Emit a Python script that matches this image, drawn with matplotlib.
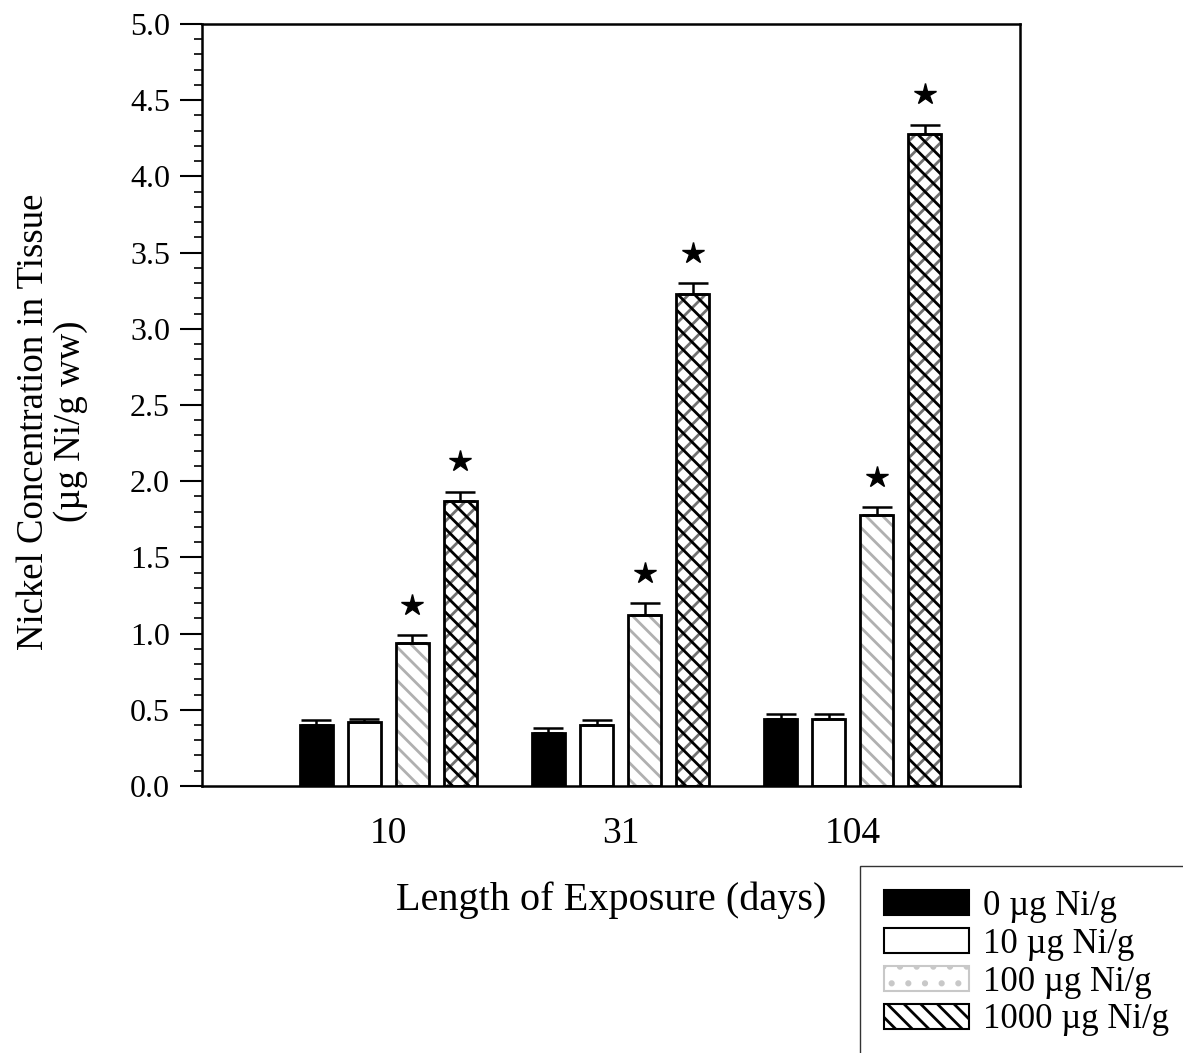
import numpy as np
import matplotlib.pyplot as plt
from matplotlib.patches import Patch

plt.rcParams['font.family'] = ['Liberation Serif', 'DejaVu Serif']
plt.rcParams['hatch.linewidth'] = 2.0

# data
days = ['10', '31', '104']
doses = ['0 µg Ni/g', '10 µg Ni/g', '100 µg Ni/g', '1000 µg Ni/g']
means = {
    '0 µg Ni/g': [0.40, 0.35, 0.44],
    '10 µg Ni/g': [0.42, 0.40, 0.44],
    '100 µg Ni/g': [0.94, 1.12, 1.78],
    '1000 µg Ni/g': [1.87, 3.23, 4.28],
}
errs = {
    '0 µg Ni/g': [0.03, 0.03, 0.03],
    '10 µg Ni/g': [0.02, 0.03, 0.03],
    '100 µg Ni/g': [0.05, 0.08, 0.05],
    '1000 µg Ni/g': [0.06, 0.07, 0.06],
}
signif = {
    '0 µg Ni/g': [False, False, False],
    '10 µg Ni/g': [False, False, False],
    '100 µg Ni/g': [True, True, True],
    '1000 µg Ni/g': [True, True, True],
}

faces = ['black', 'white', 'white', 'white']
# (hatch, hatch colour) layers drawn under the black outline
layers = [[], [], [('\\\\', '#b0b0b0')], [('//', '#707070'), ('\\\\', 'black')]]

fig = plt.figure(figsize=(11.83, 10.53), dpi=100)
ax = fig.add_axes([0.1708, 0.2536, 0.6915, 0.7236])

x = np.arange(1, len(days) + 1)
w = 0.142
step = 0.207
for i, d in enumerate(doses):
    xs = x + (i - 1.5) * step
    ax.bar(xs, means[d], width=w, color=faces[i], linewidth=0, zorder=2)
    for h, c in layers[i]:
        ax.bar(xs, means[d], width=w, fill=False, edgecolor=c, linewidth=0,
               hatch=h, zorder=2)
    ax.bar(xs, means[d], width=w, fill=False, edgecolor='black', linewidth=2, zorder=2)
    ax.errorbar(xs, means[d], yerr=[np.zeros(3), errs[d]], fmt='none',
                ecolor='black', elinewidth=1.8, capsize=11, capthick=1.8, zorder=3)
    for xi, m, e, s in zip(xs, means[d], errs[d], signif[d]):
        if s:
            ax.plot(xi, m + e + 0.2, marker='*', color='black', markersize=16,
                    zorder=3)

ax.set_xlim(0.198, 3.72)
ax.set_ylim(0, 5)
ax.set_yticks(np.arange(0, 5.01, 0.5))
ax.set_yticks(np.arange(0, 5.01, 0.1), minor=True)
ax.set_yticklabels(['%.1f' % v for v in np.arange(0, 5.01, 0.5)], fontsize=23)
ax.tick_params(axis='y', which='major', direction='out', length=16, width=1.5, pad=7)
ax.tick_params(axis='y', which='minor', direction='out', length=6, width=1.2)
ax.set_xticks(x)
ax.set_xticklabels(days, fontsize=27)
ax.tick_params(axis='x', length=0, pad=22)
for sp in ax.spines.values():
    sp.set_linewidth(1.8)

ax.set_ylabel('Nickel Concentration in Tissue\n(µg Ni/g ww)', fontsize=26.5,
              linespacing=1.1)
ax.yaxis.set_label_coords(-0.139, 0.478)
ax.set_xlabel('Length of Exposure (days)', fontsize=29, labelpad=22)

handles = [
    Patch(facecolor='black', edgecolor='black', linewidth=1.5),
    Patch(facecolor='white', edgecolor='black', linewidth=1.5),
    Patch(facecolor='white', edgecolor='#c8c8c8', linewidth=1.5, hatch='.'),
    Patch(facecolor='white', edgecolor='black', linewidth=1.5, hatch='\\\\'),
]
fig.legend(handles, doses, loc='upper left', bbox_to_anchor=(0.727, 0.178),
           borderaxespad=0, fontsize=25, frameon=True, fancybox=False,
           edgecolor='black', handlelength=2.45, handleheight=0.75,
           labelspacing=0.14, handletextpad=0.4, borderpad=0.7)

fig.savefig('out.png', dpi=100)
